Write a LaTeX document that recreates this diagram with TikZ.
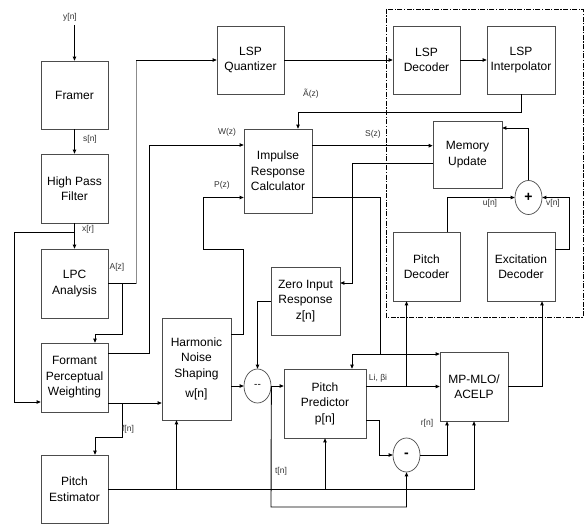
\documentclass[tikz,border=0pt]{standalone}
\usepackage{fontspec}
\setmainfont{Liberation Sans}
\usetikzlibrary{arrows.meta,shapes.geometric,calc}
\begin{document}
\begin{tikzpicture}[x=1pt,y=-1pt,
  blk/.style={draw=black!70, line width=0.7pt, align=center, inner sep=1pt, font=\fontsize{12}{15.5}\selectfont},
  sumc/.style={draw=black!70, line width=0.7pt, ellipse, minimum width=27pt, minimum height=34pt, inner sep=0pt},
  ln/.style={line width=0.9pt, black},
  arr/.style={ln, -{Triangle[length=4pt,width=3.5pt]}},
  lbl/.style={font=\fontsize{8.5}{9}\selectfont, text=black!80, inner sep=0pt},
]
\useasboundingbox (0,0) rectangle (586,524);

% blocks
\node[blk, minimum width=67pt, minimum height=68pt] (framer) at (74.5,95) {Framer};
\node[blk, minimum width=67pt, minimum height=69pt] (hpf) at (74.5,188.5) {High Pass\\Filter};
\node[blk, minimum width=67pt, minimum height=69pt] (lpc) at (74.5,283.5) {LPC\\Analysis};
\node[blk, minimum width=67pt, minimum height=69pt] (fpw) at (74.5,377.5) {Formant\\Perceptual\\Weighting};
\node[blk, minimum width=67pt, minimum height=68pt] (pe) at (74.5,489) {Pitch\\Estimator};
\node[blk, minimum width=67pt, minimum height=68pt] (lspq) at (250.5,60) {LSP\\Quantizer};
\node[blk, minimum width=68pt, minimum height=84pt] (imp) at (278,171) {Impulse\\Response\\Calculator};
\node[blk, minimum width=69pt, minimum height=102pt] (hns) at (196.5,369) {Harmonic\\Noise\\Shaping\\[5pt]w[n]};
\node[blk, minimum width=69pt, minimum height=68pt] (zir) at (305.5,301) {Zero Input\\Response\\z[n]};
\node[blk, minimum width=82pt, minimum height=69pt] (pp) at (325,403.5) {Pitch\\Predictor\\p[n]};
\node[blk, minimum width=68pt, minimum height=69pt] (mp) at (474,386.5) {MP-MLO/\\ACELP};
\node[blk, minimum width=67pt, minimum height=68pt] (lspd) at (426.5,60) {LSP\\Decoder};
\node[blk, minimum width=68pt, minimum height=68pt] (lspi) at (521,60) {LSP\\Interpolator};
\node[blk, minimum width=69pt, minimum height=67pt] (mem) at (467.5,154.5) {Memory\\Update};
\node[blk, minimum width=67pt, minimum height=69pt] (pd) at (426.5,266.5) {Pitch\\Decoder};
\node[blk, minimum width=68pt, minimum height=69pt] (ed) at (521,266.5) {Excitation\\Decoder};

% summing junctions
\node[sumc, font=\fontsize{10}{10}\selectfont] (c1) at (257.5,386) {-{}-};
\node[sumc, font=\fontsize{14}{14}\selectfont\bfseries] (c2) at (406.5,455) {-};
\node[sumc, font=\fontsize{14}{14}\selectfont\bfseries] (c3) at (528.5,197.5) {+};

% decoder region
\draw[line width=0.9pt, dash pattern=on 5pt off 1.5pt on 1.2pt off 1.5pt] (386,9) rectangle (583,317);

% input chain
\coordinate (yin) at (74.5,25);
\draw[arr] (yin) -- (framer.north);
\node[lbl] at (70,17) {y[n]};
\draw[arr] (framer) -- (hpf);
\node[lbl] at (90,139) {s[n]};
\draw[arr] (hpf) -- (lpc);
\node[lbl] at (88,229) {x[r]};
\coordinate (xb) at (74.5,232);
\draw[arr] (xb) -- (14,232) |- ([yshift=-24.5pt]fpw.west);

% A[z]
\draw[ln] (lpc.east) -- (136,283.5);
\draw[ln, draw=black!45] (136,283.5) -- (136,60);
\draw[arr] (136,60) -- (lspq.west);
\node[lbl] at (117,267) {A[z]};
\draw[arr] (122,283.5) -- (122,334) -| ([xshift=20.5pt]fpw.north);

% W(z)
\draw[arr] ([yshift=24.5pt]fpw.east) -| (149,145) -- ([yshift=26pt]imp.west);
\node[lbl] at (227,132) {W(z)};

% formant -> harmonic
\draw[arr] ([yshift=-25.5pt]fpw.east) coordinate (f1) -- (f1 -| hns.west);
\draw[arr] (122,403) -- (122,437.5) -| ([xshift=20.5pt]pe.north);
\node[lbl] at (128,429) {f[n]};

% pitch estimator
\draw[arr] (pe.east) -| (mp.south);
\draw[arr] (176.5,489) -- ([xshift=-20pt]hns.south);
\draw[arr] (325,489) -- (pp.south);

% harmonic -> c1, P(z)
\draw[arr] (c1.west -| hns.east) -- (c1.west);
\draw[arr] ([yshift=35pt]hns.east) -- (243,334) -- (243,249) -- (203,249) |- ([yshift=-26.5pt]imp.west);
\node[lbl] at (222,185) {P(z)};

% LSP chain
\draw[arr] (lspq.east) -- (lspd.west);
\draw[arr] (lspd.east) -- (lspi.west);
\draw[arr] (lspi.south) -- (521,112) -| ([xshift=20pt]imp.north);
\node[lbl] at (311,94) {Ã(z)};

% S(z)
\draw[arr] ([yshift=25.3pt]imp.east) coordinate (s1) -- (s1 -| mem.west);
\node[lbl] at (373,134) {S(z)};

% memory -> ZIR
\draw[arr] ([yshift=-8.5pt]mem.west) -- (352,163) -- (352,283) -- ([yshift=18pt]zir.east);

% impulse -> PP, MP
\coordinate (j1) at (380,354);
\draw[ln] ([yshift=-26.5pt]imp.east) -- (380,197.5) -- (j1);
\draw[arr] (j1) -- (j1 -| mp.west);
\draw[arr] (j1) -| ([xshift=27pt]pp.north);

% ZIR -> c1
\draw[arr] (zir.west) -| (c1.north);

% c1 -> PP, t[n]
\draw[arr] (c1.east) -- (c1.east -| pp.west);
\draw[arr] (c1.east) -- (271,507) -| (c2.south);
\node[lbl] at (281,471) {t[n]};

% PP -> MP, pitch decoder
\draw[arr] (mp.west -| pp.east) -- (mp.west);
\draw[arr] (406.5,386.5) -- ([xshift=-20pt]pd.south);
\node[lbl] at (378,378) {Li, βi};

% PP -> c2 -> MP
\draw[arr] ([yshift=-16.5pt]pp.east) -- (379,420) |- (c2.west);
\draw[arr] (c2.east) -| ([xshift=-27pt]mp.south);
\node[lbl] at (427,423) {r[n]};

% MP -> excitation decoder
\draw[arr] (mp.east) -| ([xshift=21pt]ed.south);

% decoders -> plus -> memory
\draw[arr] ([xshift=20.5pt]pd.north) |- (c3.west);
\node[lbl] at (490,203) {u[n]};
\draw[arr] ([yshift=17.5pt]ed.east) -- (569,249) |- (c3.east);
\node[lbl] at (553,203) {v[n]};
\draw[arr] (c3.north) |- ([yshift=26.5pt]mem.east);
\end{tikzpicture}
\end{document}
